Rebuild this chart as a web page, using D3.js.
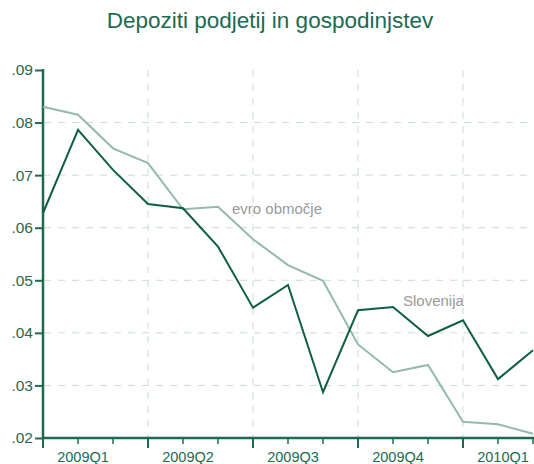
<!DOCTYPE html>
<html>
<head>
<meta charset="utf-8">
<script src="https://cdn.jsdelivr.net/npm/d3@7"></script>
<style>
  body { margin: 0; background: #fff; }
  svg { display: block; }
</style>
</head>
<body>
<div id="chart"></div>
<script>
// monthly values, jan 2009 .. mar 2010
var months = d3.range(15);
var quarters = ["2009Q1", "2009Q2", "2009Q3", "2009Q4", "2010Q1"];
var slovenija = [.0628, .0786, .0710, .0645, .0637, .0564, .0448, .0491, .0287,
                 .0443, .0449, .0394, .0424, .0312, .0367];
var evro = [.0830, .0815, .0751, .0723, .0635, .0640, .0578, .0529, .0499,
            .0378, .0325, .0339, .0231, .0226, .0208];
var yTicks = [.02, .03, .04, .05, .06, .07, .08, .09];

var width = 534, height = 464;
var dark = "#1d6a53", light = "#93baab", grid = "#c9ddd5";

var svg = d3.select("#chart").append("svg")
    .attr("width", width)
    .attr("height", height);

var x = d3.scaleLinear().domain([0, 14]).range([43, 533]);
var y = d3.scaleLinear().domain([.02, .09]).range([438, 70]);

// title
svg.append("text")
    .attr("x", 270)
    .attr("y", 28)
    .attr("text-anchor", "middle")
    .style("font-family", "Liberation Sans, Arial, sans-serif")
    .style("font-size", "22.5px")
    .style("fill", "#1d6a53")
    .text("Depoziti podjetij in gospodinjstev");

// horizontal grid
svg.append("g").selectAll("line")
    .data(yTicks.filter(function(d){ return d > .02 && d < .09; }))
    .enter().append("line")
    .attr("x1", 44).attr("x2", width)
    .attr("y1", function(d){ return y(d); })
    .attr("y2", function(d){ return y(d); })
    .attr("stroke", grid)
    .attr("stroke-width", 1)
    .attr("stroke-dasharray", "7,7");

// vertical grid at quarter boundaries
svg.append("g").selectAll("line")
    .data([3, 6, 9, 12])
    .enter().append("line")
    .attr("x1", function(d){ return x(d); })
    .attr("x2", function(d){ return x(d); })
    .attr("y1", 70).attr("y2", 437)
    .attr("stroke", grid)
    .attr("stroke-width", 1)
    .attr("stroke-dasharray", "7,7");

// y axis
var yAxis = d3.axisLeft(y)
    .tickValues(yTicks)
    .tickSize(8)
    .tickPadding(2)
    .tickFormat(function(d){ return d3.format(".2f")(d).replace(/^0/, ""); });

var gy = svg.append("g")
    .attr("transform", "translate(43,0)")
    .call(yAxis);
gy.select(".domain").remove();
gy.append("line")
    .attr("x1", 0).attr("x2", 0)
    .attr("y1", 69).attr("y2", 439)
    .attr("stroke", dark).attr("stroke-width", 2.5);

// x axis
var gx = svg.append("g")
    .attr("transform", "translate(0,438)");
gx.append("line")
    .attr("x1", 42).attr("x2", width)
    .attr("stroke", dark).attr("stroke-width", 2.5);
gx.selectAll(".mt")
    .data(months)
    .enter().append("line")
    .attr("x1", function(d){ return x(d); })
    .attr("x2", function(d){ return x(d); })
    .attr("y1", 0)
    .attr("y2", function(d){ return d % 3 == 0 ? 10 : 6; })
    .attr("stroke", dark)
    .attr("stroke-width", function(d){ return d % 3 == 0 ? 2 : 1.5; });
gx.selectAll(".ql")
    .data(quarters)
    .enter().append("text")
    .attr("x", function(d, i){ return x(i * 3) + 40; })
    .attr("y", 24)
    .attr("text-anchor", "middle")
    .style("font-family", "Liberation Sans, Arial, sans-serif")
    .style("font-size", "14.5px")
    .style("fill", dark)
    .text(function(d){ return d; });

gy.selectAll(".tick text")
    .style("font-family", "Liberation Sans, Arial, sans-serif")
    .style("font-size", "15.5px")
    .style("fill", dark);
gy.selectAll(".tick line")
    .attr("stroke", dark).attr("stroke-width", 2);

// lines
var line = d3.line()
    .x(function(d, i){ return x(i); })
    .y(function(d){ return y(d); });

svg.append("path")
    .datum(evro)
    .attr("d", line)
    .attr("fill", "none")
    .attr("stroke", light)
    .attr("stroke-width", 2);

svg.append("path")
    .datum(slovenija)
    .attr("d", line)
    .attr("fill", "none")
    .attr("stroke", "#0f5e45")
    .attr("stroke-width", 2);

// series labels
svg.append("text")
    .attr("x", 232).attr("y", 214)
    .style("font-family", "Liberation Sans Narrow, Arial Narrow, sans-serif")
    .style("font-size", "15px")
    .style("fill", "#999")
    .text("evro območje");

svg.append("text")
    .attr("x", 403).attr("y", 306)
    .style("font-family", "Liberation Sans Narrow, Arial Narrow, sans-serif")
    .style("font-size", "15px")
    .style("fill", "#999")
    .text("Slovenija");
</script>
</body>
</html>
